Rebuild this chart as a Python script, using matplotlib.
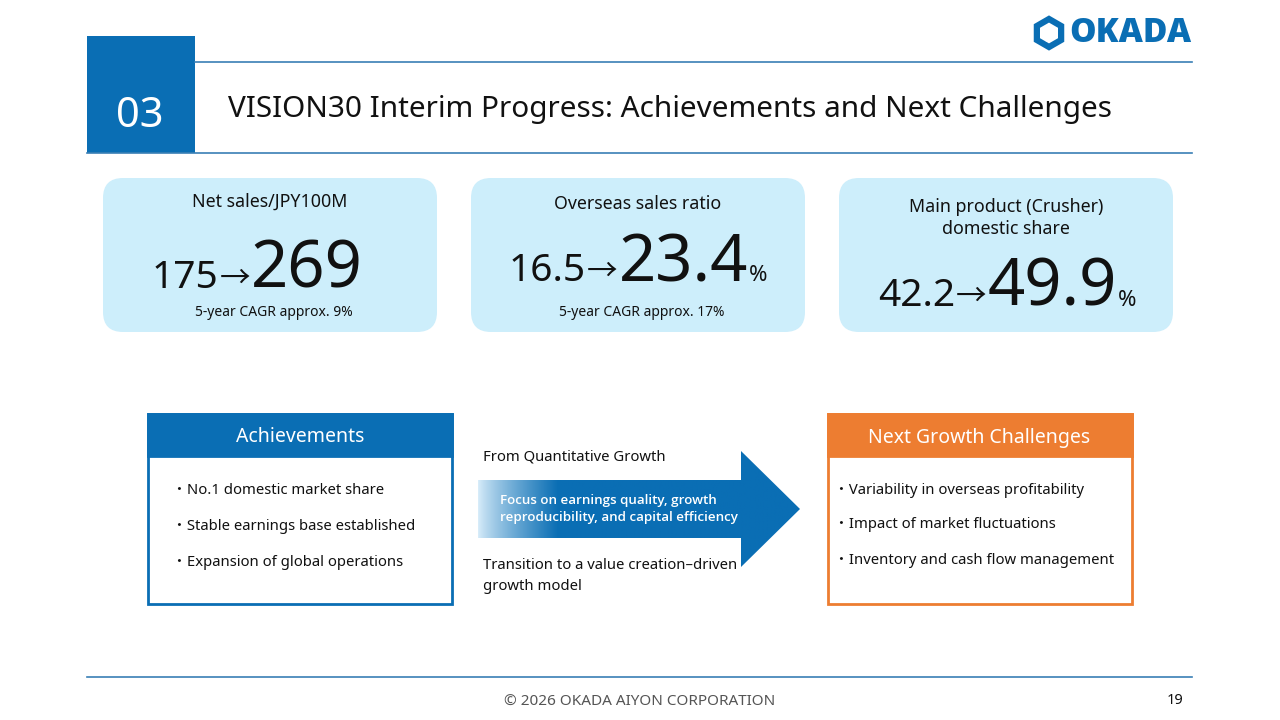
import matplotlib
matplotlib.use("Agg")
import matplotlib.pyplot as plt
import numpy as np
from matplotlib.patches import FancyBboxPatch, Rectangle, Polygon, RegularPolygon

# ---------------- data ----------------
section_no = "03"
title = "VISION30 Interim Progress: Achievements and Next Challenges"
card_titles = ["Net sales/JPY100M", "Overseas sales ratio", "Main product (Crusher)\ndomestic share"]
start_values = ["175", "16.5", "42.2"]
end_values = ["269", "23.4", "49.9"]
units = ["", "%", "%"]
cagr_notes = ["5-year CAGR approx. 9%", "5-year CAGR approx. 17%", ""]
achievements_title = "Achievements"
achievements = ["No.1 domestic market share", "Stable earnings base established",
                "Expansion of global operations"]
challenges_title = "Next Growth Challenges"
challenges = ["Variability in overseas profitability", "Impact of market fluctuations",
              "Inventory and cash flow management"]
arrow_top = "From Quantitative Growth"
arrow_mid = "Focus on earnings quality, growth\nreproducibility, and capital efficiency"
arrow_bottom = "Transition to a value creation\u2013driven\ngrowth model"
footer = "\u00a9 2026 OKADA AIYON CORPORATION"
page_no = "19"

# ---------------- style ----------------
FAM = ["Noto Sans", "Noto Sans CJK JP", "DejaVu Sans"]
plt.rcParams['font.family'] = FAM
BLUE = "#0A6EB4"
LINE = "#3A7FB5"
CARD = "#CDEEFB"
ORANGE = "#ED7D31"
TXT = "#111111"

fig = plt.figure(figsize=(12.8, 7.2), dpi=100)
ax = fig.add_axes([0, 0, 1, 1])
ax.set_xlim(0, 1280)
ax.set_ylim(720, 0)
ax.axis("off")
renderer = fig.canvas.get_renderer()

# header
ax.add_patch(Rectangle((87, 36), 108, 117, color=BLUE, lw=0))
ax.text(140, 116, section_no, color="white", fontsize=30, ha="center", va="center")
ax.plot([195, 1192], [62, 62], color=LINE, lw=1.2)
ax.plot([87, 1192], [152.5, 152.5], color=LINE, lw=1.2)
ax.text(228, 110, title, fontsize=21.4, color=TXT, ha="left", va="center")

# logo
ax.add_patch(RegularPolygon((1049, 33), numVertices=6, radius=14, orientation=0,
                            facecolor="none", edgecolor=BLUE, lw=4.5))
ax.add_patch(Polygon([[1044, 28], [1054, 33], [1046, 42]], closed=True, facecolor="white", lw=0))
ax.text(1069, 33, "OKADA", color=BLUE, fontsize=24, fontweight="heavy", ha="left", va="center",
        family=["Open Sans", "DejaVu Sans"])


def chain(x, y, parts):
    for s, size in parts:
        t = ax.text(x, y, s, fontsize=size, color=TXT, ha="left", va="baseline")
        bb = t.get_window_extent(renderer)
        x = bb.x1 + 1
    return x


# cards
card_x = [103, 471, 839]
card_w, card_h = 334, 154
title_y = [202, 204, 218]
num_left = [152, 509, 878]
num_base = [288, 281, 306]
for i in range(3):
    ax.add_patch(FancyBboxPatch((card_x[i] + 20, 178 + 20), card_w - 40, card_h - 40,
                                boxstyle="round,pad=20", facecolor=CARD, edgecolor="none"))
    cx = card_x[i] + card_w / 2
    ax.text(cx, title_y[i], card_titles[i], fontsize=12.8, color=TXT, ha="center", va="center",
            linespacing=1.35)
    parts = [(start_values[i], 28), ("\u2192", 22), (end_values[i], 47)]
    if units[i]:
        parts.append((units[i], 16))
    chain(num_left[i], num_base[i], parts)
    if cagr_notes[i]:
        ax.text(cx + 4, 313, cagr_notes[i], fontsize=10, color=TXT, ha="center", va="center")


# list boxes
def listbox(x0, color, head, items, ys, indent):
    w, h, hh = 304, 190, 42
    ax.add_patch(Rectangle((x0, 414), w, h, facecolor="white", edgecolor=color, lw=2))
    ax.add_patch(Rectangle((x0, 414), w, hh, facecolor=color, edgecolor=color, lw=2))
    ax.text(x0 + w / 2, 414 + hh / 2 + 2.5, head, color="white", fontsize=14, ha="center", va="center")
    return [ax.text(x0 + indent, y, "\u30fb" + s, fontsize=10.7, color=TXT, ha="left", va="center")
            for s, y in zip(items, ys)]


listbox(148, BLUE, achievements_title, achievements, [490, 526, 562], 24)
listbox(827.5, ORANGE, challenges_title, challenges, [490, 525, 561], 7)

# arrow with gradient
arrow_pts = [[478, 480], [741, 480], [741, 451], [800, 509], [741, 567], [741, 538], [478, 538]]
poly = Polygon(arrow_pts, closed=True, facecolor="none", edgecolor="none")
ax.add_patch(poly)
xs = np.linspace(0, 1, 400)
light = np.array([0.85, 0.93, 0.98])
dark = np.array([10, 110, 180]) / 255
tcol = np.clip((xs * (800 - 478)) / 80.0, 0, 1) ** 0.8
grad = (light[None, :] * (1 - tcol[:, None]) + dark[None, :] * tcol[:, None])[None, :, :]
im = ax.imshow(grad, extent=[478, 800, 567, 451], aspect="auto", interpolation="bilinear", zorder=1)
im.set_clip_path(poly)
ax.set_xlim(0, 1280)
ax.set_ylim(720, 0)

ax.text(483, 457, arrow_top, fontsize=10.7, color=TXT, ha="left", va="center")
ax.text(500, 509, arrow_mid, fontsize=9.6, color="white", ha="left", va="center",
        fontweight="semibold", family=["Open Sans", "Noto Sans", "DejaVu Sans"],
        linespacing=1.45, zorder=3)
ax.text(483, 576, arrow_bottom, fontsize=10.7, color=TXT, ha="left", va="center", linespacing=1.5)

# footer
ax.plot([87, 1192], [677, 677], color=LINE, lw=1.2)
ax.text(640, 702, footer, fontsize=11, color="#555555", ha="center", va="center")
ax.text(1175, 700, page_no, fontsize=10.5, color=TXT, ha="center", va="center")

fig.savefig("out.png", dpi=100)
